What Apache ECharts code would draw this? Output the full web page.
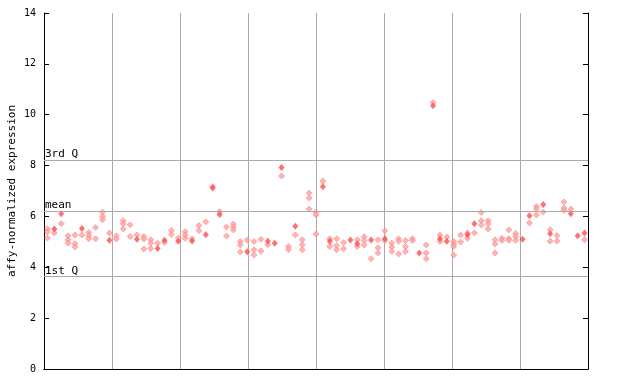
<!DOCTYPE html>
<html>
<head>
<meta charset="utf-8">
<script src="https://cdn.jsdelivr.net/npm/echarts@6/dist/echarts.min.js"></script>
<style>html,body{margin:0;padding:0;background:#fff;}#c{width:640px;height:384px;}</style>
</head>
<body>
<div id="c"></div>
<script>
// replicate values per sample (patterned diamonds)
const hollow = [
  [5.52,5.39,5.15],[5.35],[5.72],[5.24,5.08,4.95],[5.27,4.93,4.80],
  [5.27],[5.37,5.24,5.12],[5.56,5.12],[6.17,6.00,5.87],[5.35],
  [5.24,5.11],[5.83,5.71,5.51],[5.67,5.21],[5.28],[5.21,5.11,4.72],
  [5.08,4.95,4.74],[4.95],[4.98],[5.45,5.29],[5.15],
  [5.40,5.27,5.14],[5.12],[5.64,5.44],[5.79],[7.18],
  [6.19],[5.58,5.23],[5.70,5.58,5.47],[5.01,4.88,4.60],[5.07],
  [5.01,4.69,4.48],[5.10,4.64],[4.89],[],[7.59],
  [4.82,4.69],[5.27],[5.08,4.89,4.69],[6.92,6.72,6.29],[6.16,6.06,5.31],
  [7.39],[5.12,4.82],[5.12,4.85,4.69],[4.97,4.73],[],
  [5.08,4.82],[5.20,5.05,4.88],[4.34],[5.08,4.77,4.56],[5.44,5.05],
  [4.95,4.80,4.62],[5.12,5.02,4.52],[5.05,4.82,4.62],[5.12,5.05],[],
  [4.88,4.56,4.34],[10.48],[5.27,5.01],[5.19],[5.02,4.90,4.82,4.48],
  [5.27,4.99],[5.35,5.14],[5.35],[6.15,5.83,5.66],[5.83,5.71,5.51],
  [5.08,4.92,4.56],[5.14,5.05],[5.47,5.12,5.06],[5.33,5.21,5.06],[],
  [5.74],[6.39,6.29,6.06],[6.17],[5.48,5.03],[5.25,5.03],
  [6.57,6.33,6.24],[6.29],[],[5.08]
];
// highlighted value per sample (solid diamonds), null = none
const filled = [
  null,5.51,6.11,null,null,5.53,null,null,null,5.06,
  null,null,null,5.10,null,null,4.74,5.06,null,5.02,
  null,5.03,null,5.28,7.12,6.08,null,null,null,4.61,
  null,null,5.02,4.95,7.92,null,5.61,null,null,null,
  7.17,5.02,null,null,5.07,4.93,null,5.07,null,5.12,
  null,null,null,null,4.56,null,10.35,5.12,5.02,null,
  null,5.28,5.71,null,null,null,null,null,null,5.10,
  6.03,null,6.47,5.32,null,null,6.11,5.24,5.35
];
const samples = hollow.map((_, i) => 'S' + (i + 1));
const yTicks = {min: 0, max: 14, step: 2};
const refLines = [
  {name: '3rd Q', value: 8.22},
  {name: 'mean', value: 6.21},
  {name: '1st Q', value: 3.64}
];
const sections = 8;

const hollowData = [];
hollow.forEach((arr, i) => arr.forEach(v => hollowData.push([i, v])));
const filledData = [];
filled.forEach((v, i) => { if (v !== null) filledData.push([i, v]); });

const mono = 'DejaVu Sans Mono';
const chart = echarts.init(document.getElementById('c'), null, {renderer: 'canvas'});
chart.setOption({
  animation: false,
  backgroundColor: '#fff',
  grid: {left: 44, right: 52, top: 13, bottom: 15, containLabel: false, outerBoundsMode: 'none'},
  xAxis: [
    {type: 'category', data: samples, boundaryGap: true,
     axisLine: {lineStyle: {color: '#000', width: 1}}, axisTick: {show: false},
     axisLabel: {show: false}, splitLine: {show: false}},
    {type: 'value', min: 0, max: sections, interval: 1, position: 'top',
     axisLine: {show: true, lineStyle: {color: '#000', width: 1}}, axisTick: {show: false},
     axisLabel: {show: false}, splitLine: {show: true, lineStyle: {color: '#aaaaaa', width: 1}}}
  ],
  yAxis: [
    {type: 'value', min: yTicks.min, max: yTicks.max, interval: yTicks.step, position: 'left',
     name: 'affy-normalized expression', nameLocation: 'middle', nameGap: 26,
     nameMoveOverlap: false,
     nameTextStyle: {fontFamily: mono, fontSize: 11, color: '#000'},
     axisLine: {show: true, lineStyle: {color: '#000', width: 1}},
     axisTick: {show: true, inside: true, length: 5, lineStyle: {color: '#000'}},
     axisLabel: {fontFamily: mono, fontSize: 10, color: '#000', margin: 8},
     splitLine: {show: false}},
    {type: 'value', min: yTicks.min, max: yTicks.max, interval: yTicks.step, position: 'right',
     axisLine: {show: true, lineStyle: {color: '#000', width: 1}},
     axisTick: {show: true, inside: true, length: 5, lineStyle: {color: '#000'}},
     axisLabel: {show: false}, splitLine: {show: false}}
  ],
  series: [
    {type: 'scatter', xAxisIndex: 0, yAxisIndex: 0, data: hollowData,
     symbol: 'diamond', symbolSize: [6, 6],
     itemStyle: {color: '#ffa3a3', borderColor: '#ff7070', borderWidth: 0.6},
     markLine: {
       silent: true, symbol: 'none', animation: false,
       lineStyle: {color: '#aaaaaa', width: 1, type: 'solid'},
       label: {show: true, position: 'insideStartTop', distance: [1, 0],
               formatter: p => p.name, fontFamily: mono, fontSize: 11, color: '#000'},
       data: refLines.map(r => ({name: r.name, yAxis: r.value}))
     }},
    {type: 'scatter', xAxisIndex: 0, yAxisIndex: 0, data: filledData,
     symbol: 'diamond', symbolSize: [6, 7], z: 3,
     itemStyle: {color: '#ff4d4d'}}
  ]
});
</script>
</body>
</html>
